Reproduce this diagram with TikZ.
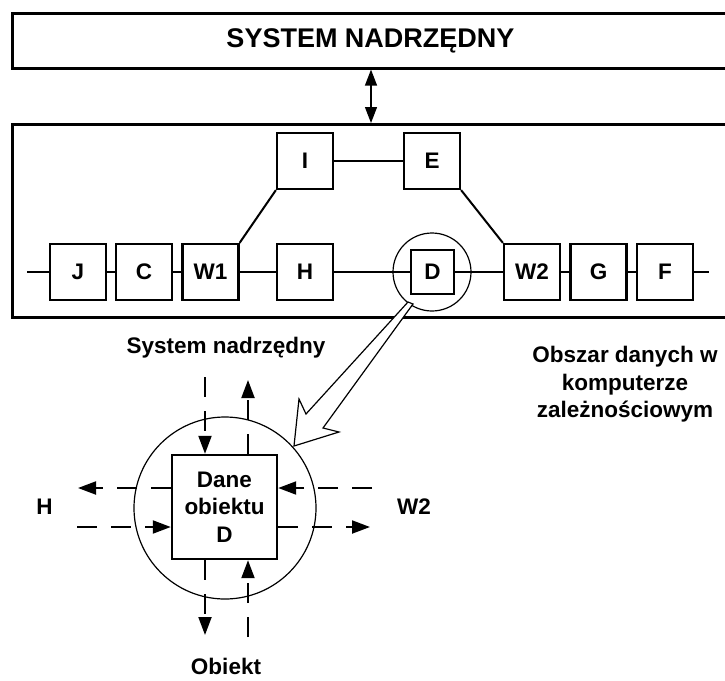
\documentclass[tikz,border=0pt]{standalone}
\usepackage{fontspec}
\setmainfont{Liberation Sans}
\usetikzlibrary{arrows.meta}
\begin{document}
\begin{tikzpicture}[x=1pt,y=-1pt,
  lbl/.style={font=\fontsize{22.5}{27.5}\selectfont\bfseries, inner sep=0pt},
  ttl/.style={font=\fontsize{27}{30}\selectfont\bfseries, inner sep=0pt},
  frame/.style={draw, line width=2.6pt, anchor=north west, inner sep=0pt},
  blk/.style={draw, line width=2.2pt, minimum width=56pt, minimum height=56pt, inner sep=0pt, font=\fontsize{22.5}{27}\selectfont\bfseries},
  wire/.style={line width=2pt},
  thinl/.style={line width=1.2pt},
  dsh/.style={line width=2pt, dash pattern=on 20pt off 14pt, -{Triangle[length=18pt,width=13pt]}},
]
\useasboundingbox (0,0) rectangle (725,680);

% top frame and main frame
\node[frame, minimum width=718pt, minimum height=55pt] (sys) at (11,12) {};
\node[ttl, anchor=base] (title) at (370.5,47) {SYSTEM NADRZĘDNY};
\node[frame, minimum width=718pt, minimum height=193pt] (main) at (11,123) {};
\coordinate (ax) at (371,90);
\draw[line width=1.3pt, {Triangle[length=16pt,width=12pt]}-{Triangle[length=16pt,width=12pt]}] (sys.south -| ax) -- (main.north -| ax);

% blocks
\node[blk] (J) at (78,272) {J};
\node[blk] (C) at (144,272) {C};
\node[blk] (W1) at (210.5,272) {W1};
\node[blk] (H) at (305,272) {H};
\node[blk, minimum width=43pt, minimum height=44pt] (D) at (432.5,272) {D};
\node[blk] (W2) at (532,272) {W2};
\node[blk] (G) at (598.5,272) {G};
\node[blk] (F) at (665,272) {F};
\node[blk] (I) at (305,161) {I};
\node[blk] (E) at (432,161) {E};
\node[draw, circle, thinl, minimum size=78pt, inner sep=0pt] (dc) at (432,272) {};

\coordinate (l0) at (27,272);
\coordinate (l1) at (709,272);
\draw[wire] (l0) -- (J) (J) -- (C) (C) -- (W1) (W1) -- (H) (H) -- (D) (D) -- (W2) (W2) -- (G) (G) -- (F) (F) -- (l1);
\draw[wire] (I) -- (E);
\draw[wire] (W1.north east) -- (I.south west);
\draw[wire] (E.south east) -- (W2.north west);

% hollow arrow
\draw[thinl, fill=white, line join=miter] (408,302) -- (306,414) -- (299,399) -- (294,446) -- (339,432) -- (323,428) -- (413,304) -- cycle;

% detail
\node[draw, circle, thinl, minimum size=182pt, inner sep=0pt] (bc) at (225,508) {};
\node[draw, fill=white, line width=2.4pt, minimum width=105pt, minimum height=104pt, align=center, lbl] (dane) at (224.5,507) {Dane\\obiektu\\D};

\coordinate (a1) at (205,377);
\coordinate (a2) at (248,380);
\coordinate (a3) at (205,635);
\coordinate (a4) at (248,637);
\coordinate (b1) at (78,488);
\coordinate (b2) at (77,527);
\coordinate (b3) at (372,488);
\coordinate (b4) at (370,527);
\draw[dsh] (a1) -- (a1 |- dane.north);
\draw[dsh] (dane.north -| a2) -- (a2);
\draw[dsh] (dane.south -| a3) -- (a3);
\draw[dsh] (a4) -- (a4 |- dane.south);
\draw[dsh] (dane.west |- b1) -- (b1);
\draw[dsh] (b2) -- (b2 -| dane.west);
\draw[dsh] (b3) -- (b3 -| dane.east);
\draw[dsh] (dane.east |- b4) -- (b4);

% labels
\node[lbl, anchor=base] (lsys) at (226,353) {System nadrzędny};
\node[lbl, anchor=base] (lobj) at (226,674) {Obiekt};
\node[lbl, anchor=base] (lh) at (44.5,514) {H};
\node[lbl, anchor=base] (lw2) at (414,514) {W2};
\node[lbl, anchor=north, align=center] (obsz) at (625,346) {Obszar danych w\\komputerze\\zależnościowym};
\end{tikzpicture}
\end{document}
